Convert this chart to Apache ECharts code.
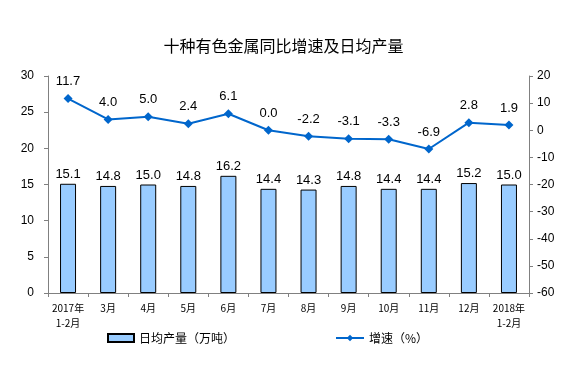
<!DOCTYPE html>
<html><head><meta charset="utf-8">
<script src="https://cdn.jsdelivr.net/npm/echarts@6/dist/echarts.min.js"></script>
<style>html,body{margin:0;padding:0;background:#fff}#c{width:567px;height:370px}</style>
</head><body><div id="c"></div>
<script>
const categories = ['2017年\n1-2月','3月','4月','5月','6月','7月','8月','9月','10月','11月','12月','2018年\n1-2月'];
const output = [15.1,14.8,15.0,14.8,16.2,14.4,14.3,14.8,14.4,14.4,15.2,15.0];
const growth = [11.7,4.0,5.0,2.4,6.1,0.0,-2.2,-3.1,-3.3,-6.9,2.8,1.9];
const barName = '日均产量（万吨）';
const lineName = '增速（%）';
const titleText = '十种有色金属同比增速及日均产量';

const chart = echarts.init(document.getElementById('c'));
const fontNum = 'Liberation Sans, Arial, sans-serif';
const fontCJK = '"Noto Sans CJK SC", sans-serif';
chart.setOption({
  animation: false,
  backgroundColor: '#fff',
  title: {text: titleText, left: 'center', top: 33, textStyle: {fontFamily: fontCJK, fontSize: 16, fontWeight: 'normal', color: '#000'}},
  legend: [
    {data: [{name: barName, icon: 'rect'}], left: 102, top: 327, itemWidth: 26, itemHeight: 8, itemGap: 6, textStyle: {fontFamily: fontCJK, fontSize: 12, color: '#000'}},
    {data: [lineName], left: 330, top: 327, itemWidth: 28, itemHeight: 8, textStyle: {fontFamily: fontCJK, fontSize: 12, color: '#000'}}
  ],
  grid: {left: 48, right: 38, top: 76, bottom: 77},
  xAxis: {
    type: 'category', data: categories,
    axisLine: {lineStyle: {color: '#808080'}},
    axisTick: {show: true, alignWithLabel: false, length: 4, lineStyle: {color: '#808080'}},
    axisLabel: {fontFamily: fontCJK, fontSize: 10, color: '#000', margin: 8, lineHeight: 15, interval: 0}
  },
  yAxis: [
    {type: 'value', min: 0, max: 30, interval: 5, position: 'left',
     axisLine: {show: true, lineStyle: {color: '#808080'}},
     axisTick: {show: true, length: 4, lineStyle: {color: '#808080'}},
     splitLine: {show: false},
     axisLabel: {fontFamily: fontNum, fontSize: 12, color: '#000', margin: 14}},
    {type: 'value', min: -60, max: 20, interval: 10, position: 'right',
     axisLine: {show: true, lineStyle: {color: '#808080'}},
     axisTick: {show: true, length: 4, lineStyle: {color: '#808080'}},
     splitLine: {show: false},
     axisLabel: {fontFamily: fontNum, fontSize: 12, color: '#000', margin: 8}}
  ],
  series: [
    {name: barName, type: 'bar', data: output, yAxisIndex: 0, barWidth: 16,
     itemStyle: {color: '#99ccff', borderColor: '#000', borderWidth: 1},
     label: {show: true, position: 'top', formatter: p => p.value.toFixed(1), fontFamily: fontNum, fontSize: 13, color: '#000', distance: 3}},
    {name: lineName, type: 'line', data: growth, yAxisIndex: 1,
     symbol: 'diamond', symbolSize: 9,
     lineStyle: {color: '#0066cc', width: 2}, itemStyle: {color: '#0066cc'},
     label: {show: true, position: 'top', formatter: p => p.value.toFixed(1), fontFamily: fontNum, fontSize: 13, color: '#000', distance: 6}}
  ]
});
</script></body></html>
